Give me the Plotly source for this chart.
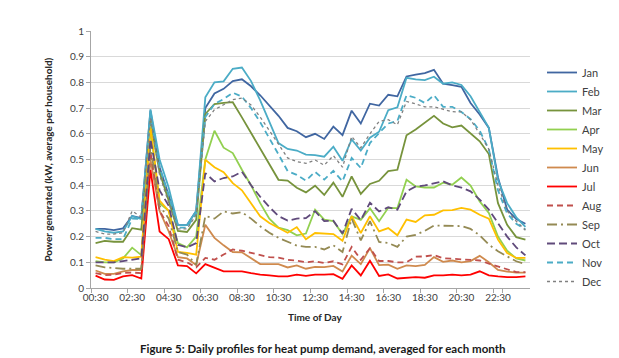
import plotly.graph_objects as go

times = [f"{((k + 1) * 30 // 60) % 24:02d}:{((k + 1) * 30) % 60:02d}" for k in range(48)]
tick_labels = times[::4]

jan = [0.23, 0.23, 0.225, 0.232, 0.28, 0.272, 0.69, 0.47, 0.36, 0.245, 0.245, 0.30,
       0.70, 0.757, 0.775, 0.805, 0.812, 0.785, 0.75, 0.71, 0.67, 0.623, 0.61, 0.587,
       0.60, 0.58, 0.628, 0.595, 0.69, 0.64, 0.717, 0.71, 0.752, 0.746, 0.823, 0.83,
       0.836, 0.849, 0.795, 0.789, 0.783, 0.72, 0.675, 0.623, 0.43, 0.305, 0.268, 0.25]
feb = [0.23, 0.22, 0.215, 0.22, 0.28, 0.268, 0.695, 0.50, 0.39, 0.245, 0.245, 0.30,
       0.742, 0.80, 0.804, 0.853, 0.858, 0.805, 0.73, 0.645, 0.564, 0.541, 0.535, 0.519,
       0.517, 0.511, 0.55, 0.495, 0.578, 0.535, 0.585, 0.608, 0.692, 0.703, 0.818, 0.812,
       0.809, 0.822, 0.795, 0.80, 0.79, 0.746, 0.687, 0.623, 0.42, 0.33, 0.275, 0.238]
mar = [0.175, 0.183, 0.18, 0.18, 0.233, 0.227, 0.65, 0.45, 0.34, 0.222, 0.218, 0.265,
       0.677, 0.716, 0.72, 0.723, 0.664, 0.603, 0.545, 0.485, 0.421, 0.418, 0.39, 0.372,
       0.398, 0.362, 0.41, 0.355, 0.434, 0.366, 0.405, 0.417, 0.455, 0.46, 0.594, 0.617,
       0.642, 0.67, 0.64, 0.625, 0.632, 0.603, 0.571, 0.521, 0.33, 0.246, 0.198, 0.188]
apr = [0.105, 0.10, 0.10, 0.115, 0.157, 0.128, 0.62, 0.33, 0.30, 0.175, 0.158, 0.20,
       0.50, 0.612, 0.546, 0.525, 0.46, 0.40, 0.33, 0.27, 0.235, 0.225, 0.205, 0.212,
       0.305, 0.266, 0.26, 0.21, 0.279, 0.265, 0.31, 0.26, 0.312, 0.311, 0.421, 0.395,
       0.391, 0.391, 0.41, 0.402, 0.43, 0.399, 0.337, 0.292, 0.20, 0.145, 0.115, 0.107]
may = [0.12, 0.11, 0.105, 0.12, 0.118, 0.122, 0.63, 0.34, 0.30, 0.14, 0.137, 0.13,
       0.499, 0.47, 0.451, 0.408, 0.38, 0.331, 0.279, 0.253, 0.234, 0.215, 0.237, 0.19,
       0.214, 0.211, 0.21, 0.184, 0.279, 0.214, 0.279, 0.22, 0.233, 0.205, 0.266, 0.257,
       0.283, 0.285, 0.302, 0.303, 0.312, 0.305, 0.285, 0.27, 0.188, 0.136, 0.117, 0.117]
jun = [0.068, 0.055, 0.055, 0.065, 0.07, 0.07, 0.50, 0.30, 0.22, 0.12, 0.115, 0.09,
       0.246, 0.195, 0.166, 0.14, 0.139, 0.117, 0.093, 0.093, 0.093, 0.08, 0.088, 0.075,
       0.082, 0.081, 0.086, 0.064, 0.126, 0.093, 0.155, 0.089, 0.091, 0.075, 0.088, 0.085,
       0.09, 0.12, 0.102, 0.107, 0.10, 0.105, 0.125, 0.10, 0.07, 0.064, 0.06, 0.06]
jul = [0.048, 0.033, 0.032, 0.045, 0.05, 0.037, 0.46, 0.22, 0.19, 0.088, 0.085, 0.057,
       0.093, 0.078, 0.065, 0.065, 0.065, 0.058, 0.052, 0.049, 0.045, 0.045, 0.052, 0.047,
       0.052, 0.052, 0.054, 0.036, 0.088, 0.049, 0.106, 0.047, 0.053, 0.037, 0.04, 0.042,
       0.04, 0.049, 0.049, 0.052, 0.049, 0.052, 0.065, 0.049, 0.045, 0.042, 0.042, 0.045]
aug = [0.058, 0.05, 0.052, 0.058, 0.06, 0.058, 0.53, 0.30, 0.24, 0.11, 0.10, 0.08,
       0.117, 0.11, 0.13, 0.15, 0.145, 0.136, 0.127, 0.12, 0.118, 0.11, 0.106, 0.10,
       0.104, 0.097, 0.104, 0.092, 0.16, 0.11, 0.155, 0.105, 0.105, 0.10, 0.10, 0.122,
       0.123, 0.128, 0.116, 0.114, 0.112, 0.108, 0.107, 0.095, 0.084, 0.07, 0.062, 0.062]
sep = [0.088, 0.08, 0.078, 0.075, 0.075, 0.075, 0.55, 0.32, 0.27, 0.14, 0.13, 0.09,
       0.28, 0.27, 0.298, 0.29, 0.295, 0.27, 0.24, 0.215, 0.195, 0.18, 0.165, 0.16,
       0.16, 0.15, 0.166, 0.14, 0.27, 0.185, 0.26, 0.179, 0.175, 0.16, 0.20, 0.207,
       0.222, 0.243, 0.243, 0.241, 0.241, 0.23, 0.205, 0.169, 0.143, 0.123, 0.104, 0.093]
oct_ = [0.10, 0.10, 0.10, 0.105, 0.11, 0.115, 0.58, 0.38, 0.32, 0.168, 0.158, 0.175,
        0.447, 0.415, 0.428, 0.434, 0.453, 0.40, 0.355, 0.315, 0.28, 0.262, 0.27, 0.272,
        0.299, 0.26, 0.262, 0.212, 0.308, 0.264, 0.332, 0.298, 0.314, 0.305, 0.376, 0.395,
        0.399, 0.408, 0.415, 0.399, 0.391, 0.376, 0.344, 0.305, 0.253, 0.20, 0.158, 0.127]
nov = [0.195, 0.195, 0.19, 0.19, 0.27, 0.268, 0.67, 0.47, 0.36, 0.235, 0.235, 0.29,
       0.665, 0.716, 0.735, 0.76, 0.745, 0.70, 0.645, 0.585, 0.52, 0.455, 0.44, 0.418,
       0.452, 0.422, 0.456, 0.415, 0.506, 0.467, 0.564, 0.603, 0.64, 0.65, 0.75, 0.74,
       0.72, 0.75, 0.705, 0.705, 0.685, 0.657, 0.612, 0.54, 0.38, 0.29, 0.25, 0.228]
dec = [0.22, 0.21, 0.21, 0.215, 0.30, 0.275, 0.66, 0.44, 0.33, 0.23, 0.23, 0.285,
       0.648, 0.694, 0.713, 0.733, 0.739, 0.712, 0.665, 0.615, 0.56, 0.506, 0.492, 0.485,
       0.498, 0.478, 0.515, 0.47, 0.59, 0.545, 0.60, 0.648, 0.655, 0.635, 0.726, 0.716,
       0.705, 0.705, 0.694, 0.686, 0.685, 0.655, 0.60, 0.54, 0.40, 0.30, 0.26, 0.225]

months = ["Jan", "Feb", "Mar", "Apr", "May", "Jun", "Jul", "Aug", "Sep", "Oct", "Nov", "Dec"]
series = [jan, feb, mar, apr, may, jun, jul, aug, sep, oct_, nov, dec]
colors = ["#4066A1", "#4BACC6", "#77933C", "#92D050", "#FFC000", "#CF8A4E",
          "#FF0000", "#C0504D", "#948A54", "#604A7B", "#4BACC6", "#808080"]
dashes = ["solid"] * 7 + ["6px,4px", "10px,4px,2px,4px", "8px,4px", "6px,4px", "dot"]
widths = [1.8] * 11 + [1.3]

FONT = "Lato"
fig = go.Figure()
for name, vals, c, d, w in zip(months, series, colors, dashes, widths):
    fig.add_trace(go.Scatter(x=times, y=vals, name=name, mode="lines",
                             line=dict(color=c, dash=d, width=w)))

fig.update_layout(
    width=619, height=358,
    margin=dict(l=83, r=80, t=23, b=78),
    paper_bgcolor="white", plot_bgcolor="white",
    font=dict(family=FONT, size=10, color="#404040"),
    showlegend=True,
    legend=dict(x=534 / 619, xref="container", y=(358 - 169) / 358, yref="container",
                xanchor="left", yanchor="middle", maxheight=320,
                font=dict(family=FONT, size=11, color="#404040"),
                tracegroupgap=0, itemwidth=30, bgcolor="rgba(0,0,0,0)"),
    xaxis=dict(type="category", categoryorder="array", categoryarray=times,
               range=[-0.5, 47.5], tickmode="array", tickvals=tick_labels,
               ticktext=tick_labels, tickson="boundaries", ticks="outside",
               ticklen=4, tickcolor="#A6A6A6", showgrid=False, showline=True,
               linecolor="#A6A6A6", linewidth=1, zeroline=False, tickangle=0,
               tickfont=dict(family=FONT, size=10, color="#404040")),
    yaxis=dict(range=[0, 1], tickmode="array",
               tickvals=[0, 0.1, 0.2, 0.3, 0.4, 0.5, 0.6, 0.7, 0.8, 0.9, 1],
               ticktext=["0", "0.1", "0.2", "0.3", "0.4", "0.5", "0.6", "0.7", "0.8", "0.9", "1"],
               ticks="outside", ticklen=4, tickcolor="#A6A6A6",
               showgrid=True, gridcolor="#D9D9D9", gridwidth=1,
               showline=True, linecolor="#A6A6A6", linewidth=1, zeroline=False,
               tickfont=dict(family=FONT, size=10, color="#404040")),
    annotations=[
        dict(text="<b>Power generated (kW, average per household)</b>",
             x=-0.1, y=0.5, xref="paper", yref="paper", textangle=-90,
             showarrow=False, font=dict(family=FONT, size=10, color="#262626"),
             xanchor="center", yanchor="middle"),
        dict(text="<b>Time of Day</b>", x=0.511, y=-0.113, xref="paper", yref="paper",
             showarrow=False, font=dict(family=FONT, size=10, color="#262626"),
             xanchor="center", yanchor="middle"),
        dict(text="<b>Figure 5: Daily profiles for heat pump demand, averaged for each month</b>",
             x=0.528, y=-0.237, xref="paper", yref="paper",
             showarrow=False, font=dict(family=FONT, size=11.5, color="#1a1a1a"),
             xanchor="center", yanchor="middle"),
    ],
)

fig.write_html("out.html")
